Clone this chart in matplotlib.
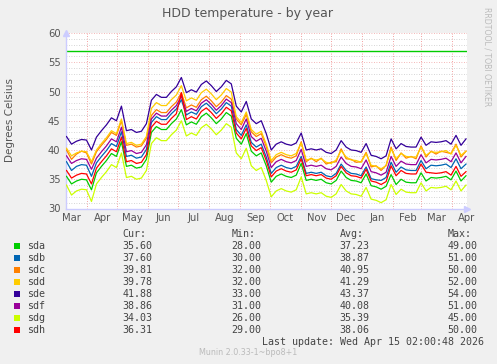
import matplotlib
matplotlib.use("Agg")
import matplotlib.pyplot as plt
import matplotlib.dates as mdates
import pandas as pd
import numpy as np

# ---------------- data ----------------
start_date = "2025-03-11"
days = list(range(0, 401, 5))

names = ["sda", "sdb", "sdc", "sdd", "sde", "sdf", "sdg", "sdh"]
colors = ["#00CC00", "#0066B3", "#FF8000", "#FFCC00", "#330099", "#990099", "#CCFF00", "#FF0000"]

sde = [42.3, 41.0, 41.5, 41.8, 41.7, 40.0, 42.2, 43.3, 44.3, 45.5,
       45.0, 47.5, 43.3, 43.5, 43.0, 43.2, 44.5, 48.5, 49.5, 49.0,
       49.0, 50.0, 50.8, 52.4, 49.8, 50.3, 49.9, 51.2, 51.8, 51.0,
       50.0, 50.8, 51.9, 51.3, 47.5, 46.5, 48.3, 45.3, 44.5, 45.0,
       42.8, 40.0, 41.0, 41.4, 41.0, 40.8, 41.2, 42.9, 40.0, 40.2,
       40.0, 40.2, 39.6, 39.4, 40.0, 41.6, 40.5, 40.0, 39.9, 39.6,
       41.1, 39.1, 38.9, 38.5, 39.0, 41.9, 40.2, 41.1, 40.6, 40.5,
       40.5, 42.2, 40.8, 41.4, 41.3, 41.4, 41.6, 41.0, 42.5, 40.8,
       41.9]

sdd = [40.3, 39.0, 39.5, 39.8, 39.7, 38.0,
       40.0, 41.1, 42.1, 43.3, 42.8, 45.3, 41.1, 41.3, 40.8, 41.0, 42.3,
       47.1, 48.1, 47.6, 47.6, 48.6, 49.4, 51.0, 48.4, 48.9, 48.5, 49.8, 50.4, 49.6, 48.6, 49.4, 50.5, 49.9,
       45.7, 44.7, 46.5, 43.5, 42.7, 43.2, 41.0, 38.2, 39.2, 39.6, 39.2, 39.0, 39.4,
       41.2, 38.3, 38.5, 38.3, 38.5, 37.9, 37.7, 38.3, 39.9, 38.8,
       38.3, 38.2, 37.9, 39.4, 37.4, 37.2, 36.8, 37.3, 40.2, 38.5,
       39.4, 38.9, 38.8, 38.8, 40.5, 39.1, 39.7, 39.6, 39.7, 39.9,
       39.3, 40.8, 39.1, 39.8]

sdc = [40.0, 38.4, 39.3, 39.8, 39.5, 37.6,
       39.7, 40.8, 41.8, 43.0, 42.5, 45.0, 40.8, 41.0, 40.5, 40.7, 42.0,
       45.9, 46.9, 46.4, 46.4, 47.4, 48.2, 49.8, 47.2, 47.7, 47.3, 48.6, 49.2, 48.4, 47.4, 48.2, 49.3, 48.7,
       45.3, 44.3, 46.1, 43.1, 42.3, 42.8, 40.6, 37.8, 38.8, 39.2, 38.8, 38.6, 39.0,
       41.4, 38.0, 38.6, 38.0, 38.6, 37.6, 37.9, 38.0, 40.2, 38.5,
       38.4, 37.9, 38.0, 39.6, 37.1, 37.3, 36.5, 37.4,
       40.5, 38.2, 39.5, 38.6, 38.9, 38.5, 40.7, 38.8, 39.8, 39.3,
       39.8, 39.6, 39.4, 41.0, 38.8, 39.8]

sdf = [39.0, 37.7, 38.2, 38.5, 38.4, 36.7,
       38.6, 39.7, 40.7, 41.9, 41.4, 43.9, 39.7, 39.9, 39.4, 39.6, 40.9,
       45.3, 46.3, 45.8, 45.8, 46.8, 47.6, 49.2, 46.6, 47.1, 46.7, 48.0, 48.6, 47.8, 46.8, 47.6, 48.7, 48.1,
       44.5, 43.5, 45.3, 42.3, 41.5, 42.0, 39.8, 37.0, 38.0, 38.4, 38.0, 37.8, 38.2,
       40.1, 37.2, 37.4, 37.2, 37.4, 36.8, 36.6, 37.2, 38.8, 37.7,
       37.2, 37.1, 36.8, 38.3, 36.3, 36.1, 35.7, 36.2,
       38.9, 37.2, 38.1, 37.6, 37.5, 37.5, 39.2, 37.8, 38.4, 38.3,
       38.4, 38.6, 38.0, 39.5, 37.8, 38.9]

sdb = [38.0, 36.5, 37.2, 37.5, 37.4, 35.5,
       37.8, 38.9, 39.9, 41.1, 40.6, 43.1, 38.9, 39.1, 38.6, 38.8, 40.1,
       44.7, 45.7, 45.2, 45.2, 46.2, 47.0, 48.6, 46.0, 46.5, 46.1, 47.4, 48.0, 47.2, 46.2, 47.0, 48.1, 47.5,
       43.5, 42.5, 44.3, 41.3, 40.5, 41.0, 38.8, 36.0, 37.0, 37.4, 37.0, 36.8, 37.2,
       38.9, 36.0, 36.2, 36.0, 36.2, 35.6, 35.4, 36.0, 37.6, 36.5,
       36.0, 35.9, 35.6, 37.1, 35.1, 34.9, 34.8, 35.3,
       37.9, 36.2, 37.1, 36.6, 36.5, 36.5, 38.2, 36.8, 37.4, 37.3,
       37.4, 37.6, 37.0, 38.5, 36.8, 37.6]

sdh = [36.5, 35.2, 35.7, 36.0, 35.9, 34.2,
       36.9, 38.0, 39.0, 40.2, 39.7, 42.2, 38.0, 38.2, 37.7, 37.9, 39.2,
       43.9, 44.9, 44.4, 44.4, 45.4, 46.2, 49.8, 45.2, 45.7, 45.3, 46.6, 47.2, 46.4, 45.4, 46.2, 47.3, 46.7,
       42.9, 41.9, 43.7, 40.7, 39.9, 40.4, 38.2, 35.4, 36.4, 36.8, 36.4, 36.2, 36.6,
       38.5, 35.6, 35.8, 35.6, 35.8, 35.2, 35.0, 35.6, 37.2, 36.1,
       35.6, 35.5, 35.2, 36.7, 34.7, 34.5, 34.1, 34.6,
       37.3, 35.6, 36.5, 36.0, 35.9, 35.9, 37.6, 36.2,
       36.1, 36.0, 36.1, 36.3, 35.7, 37.2, 35.5, 36.3]

sda = [35.5, 34.2, 34.7, 35.0, 34.9, 33.2,
       36.1, 37.2, 38.2, 39.4, 38.9, 41.4, 37.2, 37.4, 36.9, 37.1, 38.4,
       43.0, 44.0, 43.5, 43.5, 44.5, 45.3, 46.9, 44.3, 44.8, 44.4, 45.7, 46.3, 45.5, 44.5, 45.3, 46.4, 45.8,
       42.0, 41.0, 42.8, 39.8, 39.0, 39.5, 37.3, 34.5, 35.5, 35.9, 35.5, 35.3, 35.7,
       37.7, 34.8, 35.0, 34.8, 35.0, 34.4, 34.2, 34.8, 36.4, 35.3,
       34.8, 34.7, 34.4, 35.9, 33.9, 33.7, 33.3, 33.8,
       35.8, 34.1, 35.0, 34.5, 34.4, 34.4, 36.1, 34.7, 35.3, 35.2,
       35.3, 35.5, 34.9, 36.4, 34.7, 35.6]

sdg = [34.0, 32.3, 33.0, 33.3, 33.2, 31.2,
       34.2, 35.3, 36.3, 37.5, 37.0, 39.5, 35.3, 35.5, 35.0, 35.2, 36.5,
       41.1, 42.1, 41.6, 41.6, 42.6, 43.4, 45.0, 42.4, 42.9, 42.5, 43.8, 44.4, 43.6, 42.6, 43.4, 44.5, 43.9,
       39.5, 38.5, 40.3, 37.3, 36.5, 37.0, 34.8, 32.0, 33.0, 33.4, 33.0, 32.8, 33.2,
       35.4, 32.5, 32.7, 32.5, 32.7, 32.1, 31.9, 32.5, 34.1, 33.0,
       32.5, 32.4, 32.1, 33.6, 31.6, 31.4, 31.0, 31.5,
       34.1, 32.4, 33.3, 32.8, 32.7, 32.7, 34.4, 33.0, 33.6, 33.5,
       33.6, 33.8, 33.2, 34.7, 33.0, 34.0]

series = {"sda": sda, "sdb": sdb, "sdc": sdc, "sdd": sdd,
          "sde": sde, "sdf": sdf, "sdg": sdg, "sdh": sdh}

warning_level = 57

cur = ["35.60", "37.60", "39.81", "39.78", "41.88", "38.86", "34.03", "36.31"]
mins = ["28.00", "30.00", "32.00", "32.00", "33.00", "31.00", "26.00", "29.00"]
avgs = ["37.23", "38.87", "40.95", "41.29", "43.37", "40.08", "35.39", "38.06"]
maxs = ["49.00", "51.00", "50.00", "52.00", "54.00", "51.00", "45.00", "50.00"]

month_labels = ["Mar", "Apr", "May", "Jun", "Jul", "Aug", "Sep", "Oct",
                "Nov", "Dec", "Jan", "Feb", "Mar"]

title = "HDD temperature - by year"
ylabel = "Degrees Celsius"
last_update = "Last update: Wed Apr 15 02:00:48 2026"
footer = "Munin 2.0.33-1~bpo8+1"
side_text = "RRDTOOL / TOBI OETIKER"

# ---------------- figure ----------------
W, H = 497, 364
fig = plt.figure(figsize=(W / 100, H / 100), dpi=100, facecolor="#F0F0F0")
ax = fig.add_axes([66 / W, 1 - 208.5 / H, 401 / W, 175.5 / H])
ax.set_facecolor("white")

t0 = pd.Timestamp(start_date)
dates = [t0 + pd.Timedelta(days=d) for d in days]
xmin = t0 - pd.Timedelta(hours=12)
xmax = t0 + pd.Timedelta(days=401)

for name, col in zip(names, colors):
    ax.plot(dates, series[name], color=col, lw=0.9, zorder=3)

ax.axhline(warning_level, color="#00CC00", lw=1.0, zorder=2.5)

ax.set_xlim(xmin, xmax)
ax.set_ylim(30, 60)

# grids
ax.xaxis.set_major_locator(mdates.MonthLocator())
ax.xaxis.set_major_formatter(plt.NullFormatter())
ax.xaxis.set_minor_locator(mdates.MonthLocator(bymonthday=16))
ax.xaxis.set_minor_formatter(mdates.DateFormatter("%b"))
ax.set_yticks(np.arange(30, 61, 5))
ax.set_yticks(np.arange(30, 61, 1), minor=True)

ax.grid(which="major", axis="x", color="#F08080", lw=0.6, ls=(0, (1, 2)), zorder=1)
ax.grid(which="major", axis="y", color="#F0A0A0", lw=0.6, ls=(0, (1, 2)), zorder=1)
ax.grid(which="minor", axis="y", color="#C8C8C8", lw=0.6, ls=(0, (1, 2)), zorder=0.9)

ax.tick_params(axis="both", which="both", length=0, colors="#555555", labelsize=7.2)
ax.tick_params(axis="y", which="major", pad=4)
ax.tick_params(axis="x", which="minor", pad=3)

for s in ["top", "right"]:
    ax.spines[s].set_visible(False)
for s in ["left", "bottom"]:
    ax.spines[s].set_color("#CCCCFF")
    ax.spines[s].set_linewidth(1.0)

# axis arrows
ax.plot([0], [1.0], marker="^", color="#CCCCFF", markersize=4, transform=ax.transAxes, clip_on=False)
ax.plot([1.0], [0], marker=">", color="#CCCCFF", markersize=4, transform=ax.transAxes, clip_on=False)

# texts
fig.text(248 / W, 1 - 14 / H, title, ha="center", va="center", fontsize=9, color="#555555")
fig.text(10 / W, 1 - 120 / H, ylabel, ha="center", va="center", rotation=90, fontsize=7.5, color="#555555")
fig.text(487 / W, 1 - 57 / H, side_text, ha="center", va="center", rotation=270, fontsize=5.6, color="#BBBBBB")

mono = "DejaVu Sans Mono"
fs = 7.2
txtc = "#444444"
cols_x = [122.5, 231.5, 339.5, 447.5]
headers = ["Cur:", "Min:", "Avg:", "Max:"]
for hx, h in zip(cols_x, headers):
    fig.text(hx / W, 1 - 233.5 / H, h, ha="left", va="center", fontsize=fs, family=mono, color=txtc)

for k, (name, col) in enumerate(zip(names, colors)):
    yc = 245.7 + 12 * k
    fig.patches.append(plt.Rectangle((14 / W, 1 - (yc + 3) / H), 6 / W, 6 / H,
                                     transform=fig.transFigure, facecolor=col, edgecolor="none"))
    fig.text(26.7 / W, 1 - yc / H, name, ha="left", va="center", fontsize=fs, family=mono, color=txtc)
    for hx, vals in zip(cols_x, [cur, mins, avgs, maxs]):
        fig.text(hx / W, 1 - yc / H, vals[k], ha="left", va="center", fontsize=fs, family=mono, color=txtc)

fig.text(483.5 / W, 1 - 341.7 / H, last_update, ha="right", va="center", fontsize=fs, family=mono, color=txtc)
fig.text(248 / W, 1 - 352.7 / H, footer, ha="center", va="center", fontsize=5.8, color="#BBBBBB")

fig.savefig("out.png", dpi=100, facecolor=fig.get_facecolor())
